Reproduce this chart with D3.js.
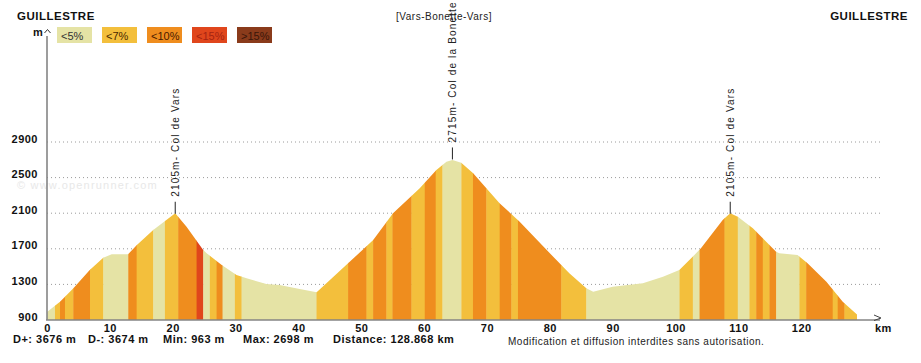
<!DOCTYPE html>
<html>
<head>
<meta charset="utf-8">
<script src="https://cdn.jsdelivr.net/npm/d3@7"></script>
<style>
  body { margin: 0; background: #fff; }
  svg { display: block; font-family: "Liberation Sans", Arial, sans-serif; }
  .bold { font-weight: bold; letter-spacing: 0.5px; }
</style>
</head>
<body>
<svg width="921" height="363"></svg>
<script>
// elevation profile
const distKm = [0, 2.07, 4.2, 6.8, 8.95, 10.3, 12.9, 14.3, 16.9, 20.4, 22.2, 24.85, 25.4, 27.8,
  30.15, 31.75, 34.9, 37.0, 40.2, 42.9, 47.9, 51.9, 55.05, 59.3, 61.95, 63.55, 64.5, 65.9, 67.8,
  72.0, 75.2, 80.0, 83.1, 85.8, 86.9, 90.0, 94.8, 98.0, 100.6, 103.0, 104.1, 107.5, 108.7, 109.9,
  112.3, 116.0, 116.5, 119.4, 121.0, 124.0, 126.6, 128.868];
const elevM = [990, 1106, 1256, 1462, 1600, 1638, 1638, 1743, 1911, 2100, 1948, 1687, 1650, 1518,
  1406, 1369, 1304, 1293, 1248, 1211, 1537, 1799, 2099, 2380, 2585, 2679, 2698, 2668, 2548,
  2211, 2005, 1650, 1425, 1256, 1218, 1275, 1312, 1387, 1462, 1630, 1712, 2024, 2100, 2061,
  1930, 1667, 1650, 1630, 1537, 1330, 1106, 963];

// gradient bands: end of each band (km) and its class
const stripeEndKm = [1.27, 2.07, 2.86, 4.18, 6.84, 8.95, 12.93, 14.26, 16.9, 18.76,
  20.87, 23.8, 24.85, 25.91, 26.98, 27.93, 29.89, 30.95, 42.88, 47.9,
  50.83, 51.88, 54.0, 54.96, 57.98, 60.1, 61.84, 62.91, 65.93, 67.77,
  69.9, 72.02, 73.88, 74.93, 81.83, 85.8, 100.64, 102.75, 103.82, 107.79,
  109.9, 111.76, 112.83, 113.88, 114.94, 116.01, 119.71, 120.78, 125.0, 125.8,
  126.87, 128.868];
const stripeCat = [0, 1, 2, 1, 2, 1, 0, 2, 1, 0,
  1, 2, 3, 0, 1, 2, 0, 1, 0, 1,
  2, 1, 2, 1, 2, 1, 2, 1, 0, 1,
  2, 1, 2, 1, 2, 1, 0, 1, 0, 2,
  1, 0, 1, 2, 1, 2, 0, 1, 2, 1,
  2, 1];

const gradeLabels = ["<5%", "<7%", "<10%", "<15%", ">15%"];
const xTicks = [0, 10, 20, 30, 40, 50, 60, 70, 80, 90, 100, 110, 120];
const yTicks = [900, 1300, 1700, 2100, 2500, 2900];

const passKm = [20.4, 64.5, 108.7];
const passAlt = [2105, 2715, 2105];
const passName = ["Col de Vars", "Col de la Bonette", "Col de Vars"];

const stats = ["D+: 3676 m", "D-: 3674 m", "Min: 963 m", "Max: 2698 m", "Distance: 128.868 km"];

const gradeColors = ["#e5e3a5", "#f3bf3c", "#ef8d1e", "#e0461c", "#8a3b1b"];
const legendText = ["#333", "#4a2a00", "#4a1a00", "#a52412", "#3a160a"];

const svg = d3.select("svg");

const x = d3.scaleLinear().domain([0, 128.868]).range([47, 857]);
const y = d3.scaleLinear().domain([900, 2900]).range([320, 142]);

// watermark
svg.append("text")
  .attr("x", 17).attr("y", 189)
  .attr("font-size", 11).attr("letter-spacing", 1.2)
  .attr("fill", "#e8e8e8")
  .text("\u00a9 www.openrunner.com");

// dotted grid
svg.append("g").selectAll("line")
  .data(yTicks.slice(1))
  .join("line")
  .attr("x1", 47).attr("x2", 882)
  .attr("y1", d => y(d)).attr("y2", d => y(d))
  .attr("stroke", "#9a9a9a").attr("stroke-width", 1)
  .attr("stroke-dasharray", "1,3");

// profile area as a clip, gradient bands inside it
const area = d3.area()
  .x((d, i) => x(distKm[i]))
  .y0(y(900))
  .y1(d => y(d))
  .curve(d3.curveLinear);

svg.append("clipPath").attr("id", "prof")
  .append("path").attr("d", area(elevM));

const bands = stripeEndKm.map((end, i) => ({
  start: i === 0 ? 0 : stripeEndKm[i - 1],
  end: end,
  cat: stripeCat[i]
}));

svg.append("g").attr("clip-path", "url(#prof)")
  .selectAll("rect")
  .data(bands)
  .join("rect")
  .attr("x", d => x(d.start))
  .attr("width", d => x(d.end) - x(d.start) + 0.4)
  .attr("y", y(2900) - 20)
  .attr("height", y(900) - y(2900) + 20)
  .attr("fill", d => gradeColors[d.cat]);

// axes lines
svg.append("line")
  .attr("x1", 47).attr("x2", 47).attr("y1", 36).attr("y2", 320)
  .attr("stroke", "#858585").attr("stroke-width", 1.6);
svg.append("path")
  .attr("d", "M44.5,33 L47.5,29.5 L50.5,33")
  .attr("fill", "none").attr("stroke", "#333").attr("stroke-width", 1);
svg.append("line")
  .attr("x1", 46).attr("x2", 880).attr("y1", 320).attr("y2", 320)
  .attr("stroke", "#858585").attr("stroke-width", 1.6);
svg.append("path")
  .attr("d", "M874,315 L881,318 L874,320.5")
  .attr("fill", "none").attr("stroke", "#444").attr("stroke-width", 1);

// tick labels
const xAxis = svg.append("g")
  .attr("transform", "translate(0,320)")
  .call(d3.axisBottom(x).tickValues(xTicks).tickFormat(d3.format("d")).tickSize(0).tickPadding(4));
xAxis.select(".domain").remove();
xAxis.selectAll("text")
  .attr("class", "bold").attr("font-size", 11).attr("fill", "#111");
xAxis.attr("font-family", null).attr("font-size", null);

const yAxis = svg.append("g")
  .attr("transform", "translate(47,0)")
  .call(d3.axisLeft(y).tickValues(yTicks).tickFormat(d3.format("d")).tickSize(0).tickPadding(9));
yAxis.select(".domain").remove();
yAxis.selectAll("text")
  .attr("class", "bold").attr("font-size", 11).attr("fill", "#111")
  .attr("dy", 0);
yAxis.attr("font-family", null).attr("font-size", null);

svg.append("text").attr("class", "bold")
  .attr("x", 875).attr("y", 332).attr("font-size", 11).attr("fill", "#111")
  .text("km");
svg.append("text").attr("class", "bold")
  .attr("x", 33).attr("y", 36).attr("font-size", 11).attr("fill", "#111")
  .text("m");

// titles
svg.append("text").attr("class", "bold")
  .attr("x", 17).attr("y", 20).attr("font-size", 11.5).attr("fill", "#111")
  .text("GUILLESTRE");
svg.append("text").attr("class", "bold")
  .attr("x", 908).attr("y", 20).attr("text-anchor", "end")
  .attr("font-size", 11.5).attr("fill", "#111")
  .text("GUILLESTRE");
svg.append("text")
  .attr("x", 444).attr("y", 20).attr("text-anchor", "middle")
  .attr("font-size", 10).attr("letter-spacing", 0.5).attr("fill", "#222")
  .text("[Vars-Bonette-Vars]");

// legend
const leg = svg.append("g").selectAll("g")
  .data(gradeLabels)
  .join("g")
  .attr("transform", (d, i) => `translate(${57 + i * 45},27)`);
leg.append("rect")
  .attr("width", 35).attr("height", 16)
  .attr("fill", (d, i) => gradeColors[i]);
leg.append("text")
  .attr("x", 4).attr("y", 12.5)
  .attr("font-size", 11).attr("fill", (d, i) => legendText[i])
  .text(d => d);

// passes
const pass = svg.append("g").selectAll("g")
  .data(passKm.map((k, i) => ({ km: k, alt: passAlt[i], name: passName[i] })))
  .join("g");
pass.append("line")
  .attr("x1", d => x(d.km)).attr("x2", d => x(d.km))
  .attr("y1", d => y(d.alt) + 1).attr("y2", d => y(d.alt) - 11)
  .attr("stroke", "#222").attr("stroke-width", 1);
pass.append("text")
  .attr("transform", d => `translate(${x(d.km)},${y(d.alt) - 16}) rotate(-90)`)
  .attr("dy", "0.35em")
  .attr("font-size", 10).attr("fill", "#222")
  .attr("textLength", d => d.alt > 2500 ? 140 : 108)
  .attr("lengthAdjust", "spacing")
  .text(d => d.alt + "m- " + d.name);

// footer
const statX = [13, 88, 163, 243, 333];
svg.append("g").selectAll("text")
  .data(stats)
  .join("text")
  .attr("class", "bold")
  .attr("x", (d, i) => statX[i]).attr("y", 343)
  .attr("font-size", 11).attr("fill", "#111")
  .text(d => d);
svg.append("text")
  .attr("x", 508).attr("y", 345)
  .attr("font-size", 10).attr("letter-spacing", 0.5).attr("fill", "#222")
  .text("Modification et diffusion interdites sans autorisation.");
</script>
</body>
</html>
